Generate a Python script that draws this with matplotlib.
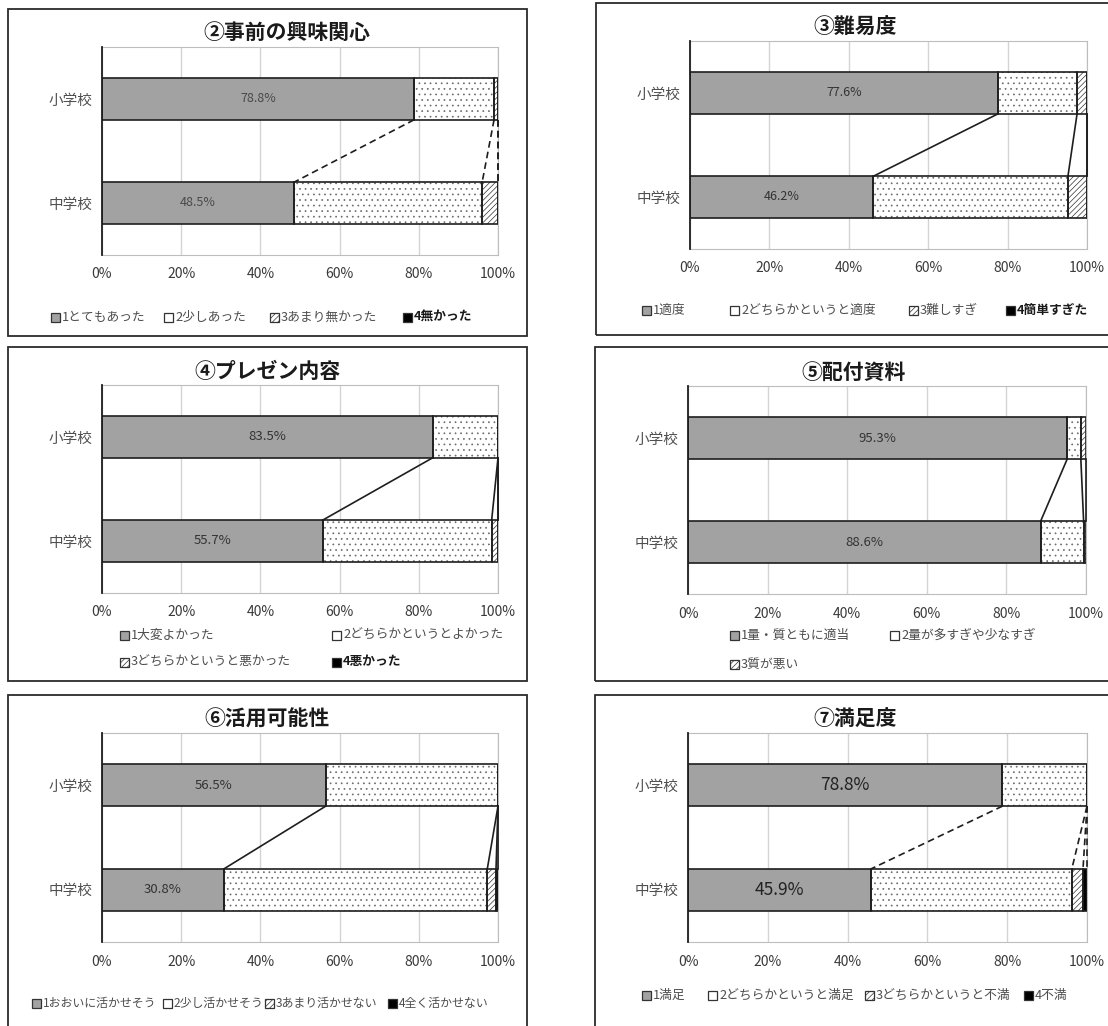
import matplotlib.pyplot as plt
from matplotlib.patches import Rectangle

plt.rcParams['font.family'] = ['Noto Sans CJK JP', 'DejaVu Sans']
plt.rcParams['hatch.linewidth'] = 0.5

W, H = 1108, 1026

schools = ['小学校', '中学校']
ticks = [0, 20, 40, 60, 80, 100]
tick_labels = ['0%', '20%', '40%', '60%', '80%', '100%']

titles = ['②事前の興味関心', '③難易度', '④プレゼン内容',
          '⑤配付資料', '⑥活用可能性', '⑦満足度']

legend_labels = [
    ['1とてもあった', '2少しあった', '3あまり無かった', '4無かった'],
    ['1適度', '2どちらかというと適度', '3難しすぎ', '4簡単すぎた'],
    ['1大変よかった', '2どちらかというとよかった', '3どちらかというと悪かった', '4悪かった'],
    ['1量・質ともに適当', '2量が多すぎや少なすぎ', '3質が悪い'],
    ['1おおいに活かせそう', '2少し活かせそう', '3あまり活かせない', '4全く活かせない'],
    ['1満足', '2どちらかというと満足', '3どちらかというと不満', '4不満'],
]

# percentages per answer, elementary (小学校) and junior high (中学校)
elem_values = [
    [78.8, 20.2, 1.0, 0.0],
    [77.6, 19.9, 2.5, 0.0],
    [83.5, 16.5, 0.0, 0.0],
    [95.3, 3.4, 1.3],
    [56.5, 43.5, 0.0, 0.0],
    [78.8, 21.2, 0.0, 0.0],
]
junior_values = [
    [48.5, 47.5, 4.0, 0.0],
    [46.2, 49.0, 4.8, 0.0],
    [55.7, 42.7, 1.6, 0.0],
    [88.6, 10.8, 0.6],
    [30.8, 66.5, 2.2, 0.5],
    [45.9, 50.3, 2.8, 1.0],
]

# segment styles: solid gray, dotted, diagonal hatch, black
styles = [
    dict(facecolor='#a2a2a2', hatch=None, hatch_color='#1e1e1e'),
    dict(facecolor='white', hatch='...', hatch_color='#6a6a6a'),
    dict(facecolor='white', hatch='//////', hatch_color='#333333'),
    dict(facecolor='black', hatch=None, hatch_color='#1e1e1e'),
]

# pixel layout of each panel
layout = [
    dict(box=(8, 9, 527, 336), plot=(102, 47, 498, 255), title=(287, 32),
         legend=[(51, 317), (164, 317), (270, 317), (403, 317)], dashed=True,
         label_size=9, label_color='#4a4a4a', legend_size=9.2, bold_last=True),
    dict(box=(596, 3, 1115, 335), plot=(690, 41, 1087, 249), title=(855, 27),
         legend=[(642, 310), (730, 310), (909, 310), (1006, 310)], dashed=False,
         label_size=9, label_color='#333333', legend_size=9.2, bold_last=True),
    dict(box=(8, 347, 527, 681), plot=(102, 385, 498, 593), title=(267, 372),
         legend=[(120, 635), (332, 635), (120, 662), (332, 662)], dashed=False,
         label_size=9.5, label_color='#333333', legend_size=9.2, bold_last=True),
    dict(box=(595, 347, 1115, 681), plot=(688, 386, 1086, 594), title=(854, 372),
         legend=[(730, 635), (890, 635), (730, 664)], dashed=False,
         label_size=9.5, label_color='#333333', legend_size=9.2, bold_last=False),
    dict(box=(8, 695, 527, 1030), plot=(102, 733, 498, 942), title=(267, 719),
         legend=[(32, 1003), (163, 1003), (265, 1003), (388, 1003)], dashed=False,
         label_size=9.5, label_color='#333333', legend_size=8.6, bold_last=False),
    dict(box=(595, 695, 1115, 1030), plot=(688, 733, 1087, 942), title=(855, 719),
         legend=[(642, 995), (708, 995), (865, 995), (1024, 995)], dashed=True,
         label_size=12.5, label_color='#222222', legend_size=9.2, bold_last=False),
]

fig = plt.figure(figsize=(W / 100, H / 100), dpi=100)


def fx(x):
    return x / W


def fy(y):
    return 1 - y / H


def draw_panel(title, labels, elem, junior, cfg):
    x0, y0, x1, y1 = cfg['box']
    fig.add_artist(Rectangle((fx(x0), fy(y1)), (x1 - x0) / W, (y1 - y0) / H,
                             transform=fig.transFigure, fill=False,
                             edgecolor='#2b2b2b', linewidth=1.3))
    fig.text(fx(cfg['title'][0]), fy(cfg['title'][1]), title, ha='center', va='center',
             fontsize=15, fontweight='bold', color='#1a1a1a')

    px0, py0, px1, py1 = cfg['plot']
    ax = fig.add_axes([fx(px0), fy(py1), (px1 - px0) / W, (py1 - py0) / H])
    ax.set_xlim(0, 100)
    ax.set_ylim(-0.5, 1.5)

    ypos = [1, 0]  # 小学校 on top
    left = [0.0, 0.0]
    cum = []
    for k in range(len(labels)):
        widths = [elem[k], junior[k]]
        st = styles[k]
        # fill + pattern first (pattern takes the edge colour), then a dark outline
        bars = ax.barh(ypos, widths, left=left, height=0.4, color=st['facecolor'],
                       hatch=st['hatch'], edgecolor=st['hatch_color'], linewidth=0,
                       zorder=3)
        ax.barh(ypos, widths, left=left, height=0.4, fill=False,
                edgecolor='#1e1e1e', linewidth=1.2, zorder=3.5)
        if k == 0:
            ax.bar_label(bars, labels=[f'{v:.1f}%' for v in widths], label_type='center',
                         fontsize=cfg['label_size'], color=cfg['label_color'])
        left = [left[0] + widths[0], left[1] + widths[1]]
        cum.append(tuple(left))

    # series lines joining segment ends of the two bars
    ls = (0, (4, 2.5)) if cfg['dashed'] else '-'
    for top, bot in cum:
        ax.plot([top, bot], [0.8, 0.2], color='#1e1e1e', linewidth=1.2,
                linestyle=ls, zorder=4, clip_on=False)

    ax.set_xticks(ticks)
    ax.set_xticklabels(tick_labels, fontsize=10, color='#3a3a3a')
    ax.set_yticks(ypos)
    ax.set_yticklabels(schools, fontsize=10.5, color='#505050')
    ax.tick_params(axis='both', length=0)
    ax.tick_params(axis='x', pad=9)
    ax.tick_params(axis='y', pad=7)
    ax.grid(axis='x', color='#d4d4d4', linewidth=1.0, zorder=0)
    ax.set_axisbelow(True)
    for side in ['top', 'right', 'bottom']:
        ax.spines[side].set_color('#bdbdbd')
    ax.spines['left'].set_color('#1e1e1e')
    ax.spines['left'].set_linewidth(1.3)
    ax.spines['left'].set_zorder(5)

    # legend entries: small swatch plus text
    for k, (lab, (lx, ly)) in enumerate(zip(labels, cfg['legend'])):
        st = styles[k]
        fig.add_artist(Rectangle((fx(lx), fy(ly + 4.5)), 9 / W, 9 / H,
                                 transform=fig.transFigure, facecolor=st['facecolor'],
                                 hatch=None if k == 1 else st['hatch'],
                                 edgecolor='#333333', linewidth=0.9))
        bold = cfg['bold_last'] and k == 3
        fig.text(fx(lx + 11), fy(ly), lab, ha='left', va='center',
                 fontsize=cfg['legend_size'],
                 color='#1a1a1a' if bold else '#4d4d4d',
                 fontweight='bold' if bold else 'normal')


for i in range(len(titles)):
    draw_panel(titles[i], legend_labels[i], elem_values[i], junior_values[i], layout[i])

fig.savefig('out.png', dpi=100, facecolor='white')
